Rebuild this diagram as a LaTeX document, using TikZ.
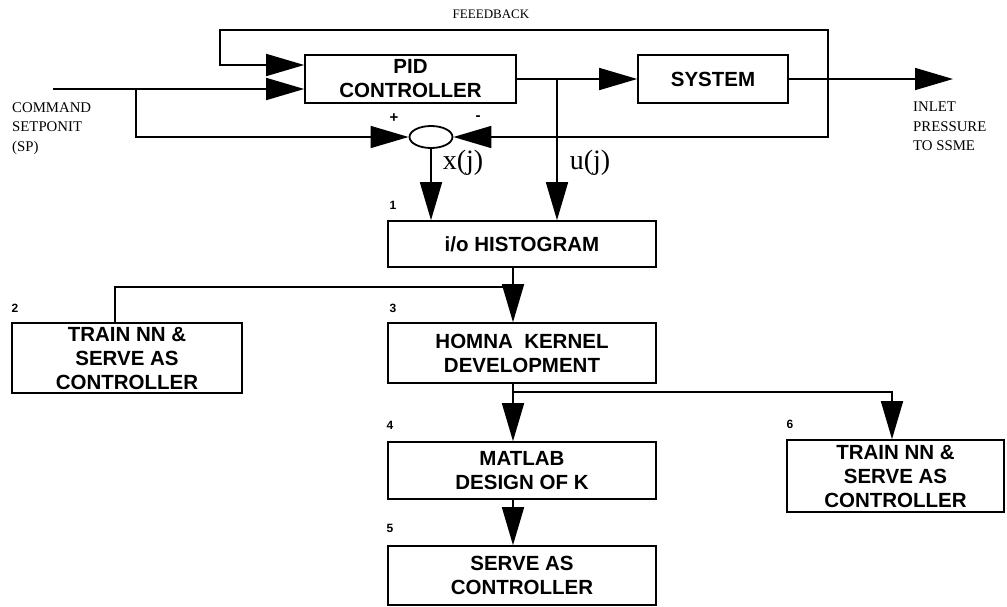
\documentclass[tikz,border=0pt]{standalone}
\usepackage{fontspec}
\setmainfont{Liberation Serif}
\newfontfamily\boxfont{Liberation Sans}
\usetikzlibrary{arrows.meta,shapes.geometric}
\begin{document}
\begin{tikzpicture}[x=1pt,y=-1pt,
  blk/.style={draw,line width=1.6pt,inner sep=0pt,align=center,font=\boxfont\bfseries\fontsize{20.5}{24}\selectfont},
  conn/.style={line width=1.6pt},
  arr/.style={conn,-{Triangle[length=38pt,width=22pt]}},
  lbl/.style={font=\fontsize{14.8}{19.5}\selectfont,align=left,inner sep=0pt},
  num/.style={font=\boxfont\bfseries\fontsize{12}{14}\selectfont,inner sep=0pt},
  sig/.style={font=\fontsize{28}{32}\selectfont,inner sep=0pt},
  pm/.style={font=\boxfont\bfseries\fontsize{15}{17}\selectfont,inner sep=0pt}]
\useasboundingbox (0,0) rectangle (1007,606);

% blocks
\node[blk,minimum width=211pt,minimum height=48pt] (pid) at (410.5,79) {PID\\CONTROLLER};
\node[blk,minimum width=150pt,minimum height=48pt] (sys) at (713,79) {SYSTEM};
\node[draw,line width=1.8pt,ellipse,inner sep=0pt,minimum width=43pt,minimum height=22pt] (sum) at (431,137) {};
\node[blk,minimum width=268pt,minimum height=46pt] (hist) at (522,244) {i/o HISTOGRAM};
\node[blk,minimum width=268pt,minimum height=60pt] (homna) at (522,353) {HOMNA\ \ KERNEL\\DEVELOPMENT};
\node[blk,minimum width=268pt,minimum height=57pt] (matlab) at (522,470.5) {MATLAB\\DESIGN OF K};
\node[blk,minimum width=268pt,minimum height=59pt] (serve) at (522,575.5) {SERVE AS\\CONTROLLER};
\node[blk,minimum width=230pt,minimum height=70pt] (nn2) at (127,358) {TRAIN NN \&\\SERVE AS\\CONTROLLER};
\node[blk,minimum width=217pt,minimum height=72pt] (nn6) at (895.5,476) {TRAIN NN \&\\SERVE AS\\CONTROLLER};

% coordinates
\coordinate (cmd) at (53,89);
\coordinate (br1) at (136,89);
\coordinate (fb) at (828,79);
\coordinate (fbtr) at (828,30);
\coordinate (fbtl) at (220,30);
\coordinate (fbbl) at (220,65);
\coordinate (br2) at (557,79);
\coordinate (out) at (953,79);
\coordinate (br3) at (513,287);
\coordinate (k2) at (115,287);
\coordinate (br4) at (513,392);
\coordinate (k6) at (892,392);

% connectors
\draw[arr] (cmd) -- ([yshift=-10pt]pid.west);
\draw[arr] (fb) -- (fbtr) -- (fbtl) -- (fbbl) -- ([yshift=14pt]pid.west);
\draw[arr] (br1) |- (sum.west);
\draw[arr] (fb) |- (sum.east);
\draw[arr] (pid.east) -- (sys.west);
\draw[arr] (sys.east) -- (out);
\draw[arr] (sum.south) -- (hist.north -| sum.south);
\draw[arr] (br2) -- (hist.north -| br2);
\draw[arr] (hist.south -| br3) -- (homna.north -| br3);
\draw[conn] (br3) -- (k2) -- (nn2.north -| k2);
\draw[arr] (homna.south -| br4) -- (matlab.north -| br4);
\draw[arr] (br4) -- (k6) -- (nn6.north -| k6);
\draw[arr] (matlab.south -| br4) -- (serve.north -| br4);

% labels
\node[font=\fontsize{13}{15}\selectfont,inner sep=0pt] (fblbl) at (491,14) {FEEEDBACK};
\node[lbl,anchor=north west] (cmdlbl) at (12,102) {COMMAND\\SETPONIT\\(SP)};
\node[lbl,anchor=north west] (outlbl) at (913,102) {INLET\\PRESSURE\\TO SSME};
\node[pm] (plus) at (394,118) {+};
\node[pm] (minus) at (478,118) {-};
\node[sig] (xj) at (463,163) {x(j)};
\node[sig] (uj) at (590,163) {u(j)};
\node[num] (n1) at (393,205) {1};
\node[num] (n2) at (15,308) {2};
\node[num] (n3) at (393,308) {3};
\node[num] (n4) at (390,425) {4};
\node[num] (n5) at (390,528) {5};
\node[num] (n6) at (790,424) {6};
\end{tikzpicture}
\end{document}
